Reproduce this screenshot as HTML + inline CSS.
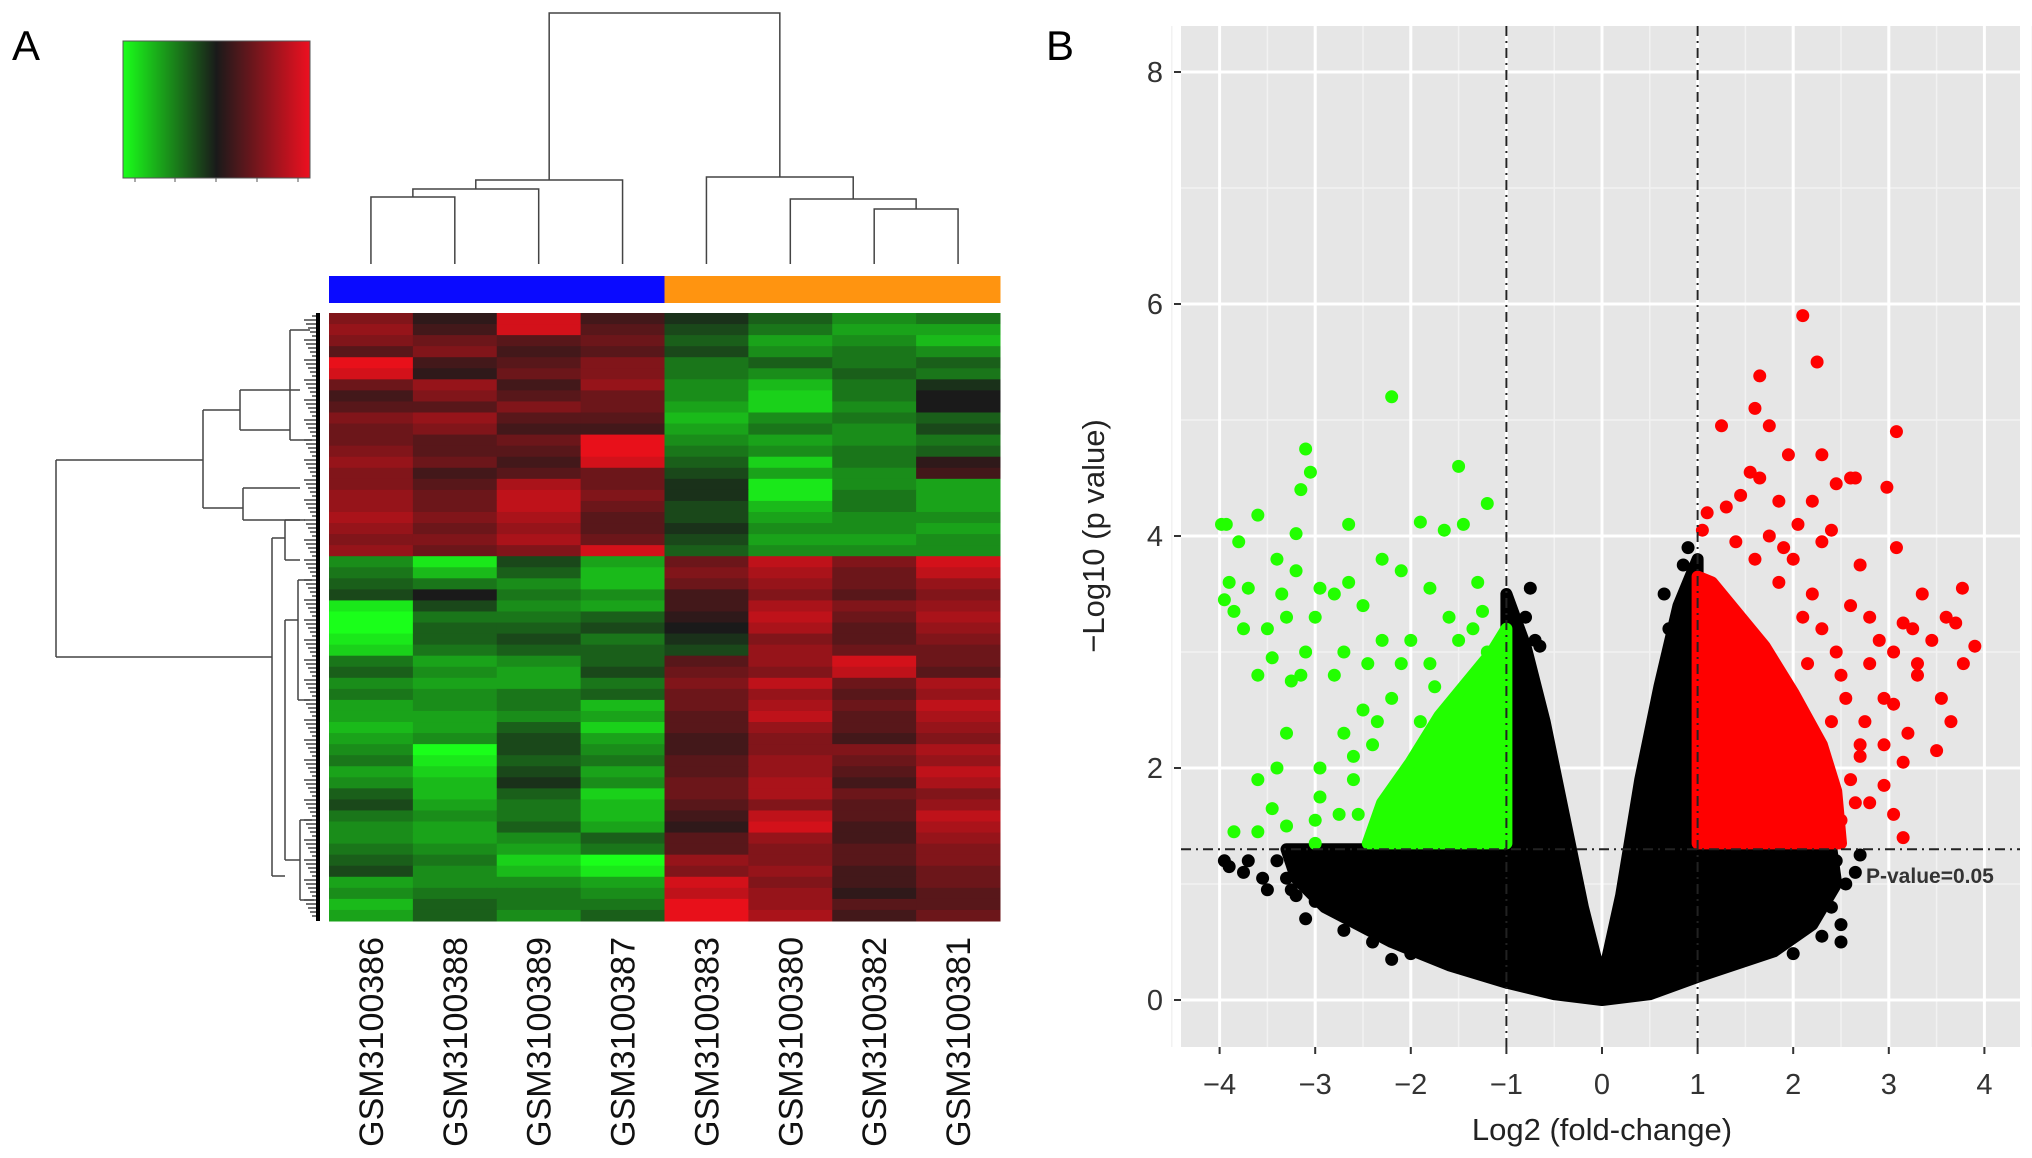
<!DOCTYPE html>
<html><head><meta charset="utf-8"><style>
html,body{margin:0;padding:0;background:#fff;}
svg{display:block;font-family:"Liberation Sans",Arial,sans-serif;}
</style></head><body>
<svg id="fig" width="2032" height="1158" viewBox="0 0 2032 1158" xmlns="http://www.w3.org/2000/svg">
<defs>
<linearGradient id="ck" x1="0" x2="1" y1="0" y2="0">
<stop offset="0" stop-color="#1aff1a"/><stop offset="0.5" stop-color="#1a1a1a"/><stop offset="1" stop-color="#ee1020"/>
</linearGradient>
</defs>
<text x="12" y="60" font-size="42">A</text>
<text x="1046" y="60" font-size="42">B</text>
<g>
<rect x="123" y="41" width="187" height="137" fill="url(#ck)" stroke="#555" stroke-width="1"/>
<path d="M135 178v4M175 178v4M216 178v4M257 178v4M298 178v4" stroke="#555" stroke-width="1"/>
</g>
<g id="heat"></g>
<g id="dendroTop" stroke="#444" stroke-width="1.5" fill="none"></g>
<g id="dendroLeft" stroke="#444" stroke-width="1.5" fill="none"></g>
<g id="volcano"></g>
</svg>
<script>
const NS="http://www.w3.org/2000/svg";
function mk(tag,attrs,parent){const e=document.createElementNS(NS,tag);for(const k in attrs)e.setAttribute(k,attrs[k]);parent.appendChild(e);return e;}

// ---------- Heatmap data ----------
const samples=["GSM3100386","GSM3100388","GSM3100389","GSM3100387","GSM3100383","GSM3100380","GSM3100382","GSM3100381"];
const groups=["blue","blue","blue","blue","orange","orange","orange","orange"];
const heatRows=[
[.5,.1,.9,.2,-.1,-.3,-.5,-.4],
[.6,.2,.9,.3,-.2,-.4,-.6,-.6],
[.5,.4,.3,.4,-.3,-.6,-.5,-.7],
[.3,.5,.2,.3,-.2,-.5,-.4,-.5],
[1,.2,.3,.5,-.4,-.3,-.4,-.3],
[.9,.1,.4,.5,-.4,-.5,-.3,-.4],
[.4,.6,.2,.6,-.5,-.7,-.4,-.1],
[.2,.5,.3,.4,-.5,-.8,-.4,0],
[.3,.3,.5,.4,-.6,-.8,-.5,0],
[.5,.6,.3,.3,-.7,-.5,-.4,-.3],
[.4,.5,.2,.2,-.6,-.4,-.5,-.2],
[.4,.3,.4,1,-.5,-.6,-.5,-.4],
[.5,.3,.3,1,-.4,-.5,-.4,-.3],
[.6,.4,.2,.9,-.3,-.8,-.4,.1],
[.5,.2,.3,.4,-.2,-.6,-.5,.2],
[.5,.3,.7,.4,-.1,-.9,-.5,-.6],
[.6,.4,.8,.5,-.1,-.9,-.4,-.6],
[.6,.4,.8,.4,-.2,-.7,-.4,-.6],
[.7,.5,.7,.3,-.2,-.6,-.5,-.5],
[.6,.4,.6,.3,-.1,-.5,-.5,-.6],
[.5,.5,.7,.4,-.2,-.6,-.6,-.5],
[.6,.4,.5,.9,-.3,-.5,-.5,-.5],
[-.5,-.9,-.2,-.6,.4,.8,.5,.9],
[-.4,-.7,-.3,-.7,.5,.7,.4,.8],
[-.3,-.4,-.5,-.7,.4,.6,.4,.6],
[-.2,0,-.4,-.5,.2,.5,.3,.5],
[-.9,-.2,-.5,-.6,.2,.7,.5,.6],
[-1,-.4,-.4,-.3,.1,.8,.4,.7],
[-1,-.3,-.3,-.2,.0,.7,.3,.6],
[-.9,-.3,-.2,-.4,-.1,.5,.3,.5],
[-.8,-.4,-.3,-.3,-.2,.6,.4,.4],
[-.4,-.6,-.5,-.3,.3,.6,.9,.4],
[-.3,-.5,-.6,-.2,.4,.5,.8,.3],
[-.5,-.6,-.6,-.4,.5,.8,.4,.7],
[-.4,-.5,-.4,-.3,.4,.6,.3,.6],
[-.6,-.5,-.4,-.7,.4,.7,.4,.8],
[-.6,-.6,-.5,-.6,.3,.8,.3,.7],
[-.7,-.6,-.3,-.8,.3,.6,.3,.6],
[-.6,-.5,-.2,-.6,.2,.5,.2,.5],
[-.5,-1,-.2,-.5,.2,.5,.5,.7],
[-.4,-.9,-.3,-.4,.3,.6,.4,.6],
[-.6,-.8,-.2,-.6,.3,.6,.3,.8],
[-.5,-.7,-.1,-.5,.4,.7,.2,.7],
[-.3,-.7,-.3,-.8,.4,.7,.4,.5],
[-.2,-.6,-.4,-.7,.3,.5,.3,.6],
[-.4,-.5,-.4,-.7,.2,.8,.3,.8],
[-.5,-.6,-.3,-.6,.1,.9,.2,.7],
[-.5,-.6,-.5,-.3,.3,.6,.2,.6],
[-.4,-.5,-.6,-.4,.3,.5,.3,.5],
[-.3,-.4,-.8,-1,.6,.5,.3,.5],
[-.2,-.5,-.7,-.9,.5,.6,.2,.4],
[-.6,-.5,-.5,-.6,.9,.5,.2,.4],
[-.5,-.4,-.4,-.5,.8,.6,.1,.3],
[-.7,-.3,-.4,-.4,1,.6,.3,.3],
[-.6,-.3,-.5,-.3,1,.7,.2,.4]
];
// ---------- Volcano data ----------
const xTicks=[-4,-3,-2,-1,0,1,2,3,4];
const yTicks=[0,2,4,6,8];
const foldThresh=[-1,1];
const pThresh=1.3;
const greenPts=[[-3.98,4.1],[-3.93,4.1],[-3.8,3.95],[-3.6,4.18],[-3.1,4.75],[-3.05,4.55],[-3.15,4.4],[-3.2,4.02],[-2.65,4.1],[-2.2,5.2],[-1.9,4.12],[-1.65,4.05],[-1.5,4.6],[-1.45,4.1],[-1.2,4.28],[-2.3,3.8],[-2.1,3.7],[-1.8,3.55],[-3.9,3.6],[-3.95,3.45],[-3.85,3.35],[-3.7,3.55],[-3.75,3.2],[-3.5,3.2],[-3.4,3.8],[-3.35,3.5],[-3.2,3.7],[-3.3,3.3],[-3.0,3.3],[-2.95,3.55],[-2.8,3.5],[-2.65,3.6],[-2.5,3.4],[-2.7,3.0],[-3.1,3.0],[-3.45,2.95],[-3.6,2.8],[-3.25,2.75],[-3.15,2.8],[-2.8,2.8],[-2.7,2.3],[-2.5,2.5],[-3.3,2.3],[-3.6,1.9],[-3.45,1.65],[-3.3,1.5],[-3.85,1.45],[-3.0,1.55],[-3.4,2.0],[-2.95,2.0],[-2.95,1.75],[-3.0,1.35],[-3.6,1.45],[-2.6,1.9],[-2.4,2.2],[-2.2,2.6],[-2.0,3.1],[-1.8,2.9],[-1.6,3.3],[-1.3,3.6],[-1.25,3.35],[-2.3,3.1],[-2.45,2.9],[-2.55,1.6],[-2.2,1.5],[-1.9,2.4],[-1.7,2.1],[-2.1,1.9],[-1.5,3.1],[-1.35,3.2],[-1.2,3.0],[-2.1,2.9],[-1.75,2.7],[-2.35,2.4],[-2.6,2.1],[-2.75,1.6]];
const redPts=[[2.1,5.9],[2.25,5.5],[1.65,5.38],[1.6,5.1],[1.25,4.95],[1.75,4.95],[3.08,4.9],[1.95,4.7],[2.3,4.7],[1.55,4.55],[1.65,4.5],[2.6,4.5],[2.65,4.5],[2.45,4.45],[2.98,4.42],[1.45,4.35],[1.85,4.3],[2.2,4.3],[1.1,4.2],[1.3,4.25],[2.05,4.1],[2.4,4.05],[1.05,4.05],[1.75,4.0],[2.3,3.95],[3.08,3.9],[2.7,3.75],[3.77,3.55],[3.35,3.5],[3.6,3.3],[3.7,3.25],[3.15,3.25],[3.25,3.2],[3.05,3.0],[3.45,3.1],[3.9,3.05],[2.9,3.1],[2.8,2.9],[3.3,2.9],[3.78,2.9],[3.55,2.6],[3.3,2.8],[2.95,2.6],[2.75,2.4],[3.05,2.55],[3.65,2.4],[3.2,2.3],[2.95,2.2],[3.5,2.15],[2.7,2.1],[3.15,2.05],[2.6,1.9],[2.65,1.7],[2.95,1.85],[2.8,1.7],[3.05,1.6],[3.15,1.4],[2.5,1.55],[2.4,1.45],[2.55,2.6],[2.45,3.0],[2.2,3.5],[2.0,3.8],[2.6,3.4],[2.8,3.3],[2.4,2.4],[1.9,3.9],[2.1,3.3],[1.85,3.6],[2.3,3.2],[2.5,2.8],[2.7,2.2],[1.6,3.8],[1.4,3.95],[2.15,2.9]];
const blackPts=[[-3.95,1.2],[-3.9,1.15],[-3.7,1.2],[-3.55,1.05],[-3.3,1.05],[-3.5,0.95],[-3.2,0.9],[-3.0,0.85],[-2.8,0.8],[-3.1,0.7],[-2.7,0.6],[-2.4,0.5],[-2.2,0.35],[-2.0,0.4],[-2.9,1.0],[-2.6,1.2],[-2.5,0.9],[-1.8,1.1],[-3.75,1.1],[-3.4,1.2],[-3.15,1.2],[-2.85,1.2],[-2.75,1.05],[-3.25,0.95],[2.7,1.25],[2.65,1.1],[2.5,0.65],[2.5,0.5],[2.4,0.8],[2.3,0.55],[2.1,1.0],[2.0,0.4],[2.2,0.9],[2.45,1.2],[2.35,1.25],[2.3,1.1],[2.55,1.0],[2.2,1.2],[-0.75,3.55],[-0.8,3.3],[-0.65,3.05],[-0.7,3.1],[0.9,3.9],[0.85,3.75],[0.65,3.5],[0.7,3.2],[-0.9,3.2],[-0.85,3.0]];
const blackArea=[[-1,3.5],[-0.8,3.05],[-0.6,2.4],[-0.4,1.6],[-0.2,0.8],[0,0.15],[0.2,0.9],[0.4,1.9],[0.6,2.7],[0.8,3.4],[1,3.8],[1,1.3],[2.4,1.3],[2.45,1.0],[2.2,0.65],[1.8,0.42],[1,0.2],[0.5,0.05],[0,0.0],[-0.5,0.05],[-1,0.15],[-1.6,0.3],[-2.2,0.5],[-2.9,0.8],[-3.2,1.05],[-3.3,1.3],[-1,1.3]];
const greenArea=[[-1,1.35],[-1,3.2],[-1.15,3.0],[-1.4,2.75],[-1.7,2.45],[-2.0,2.05],[-2.3,1.7],[-2.45,1.35]];
const redArea=[[1,1.35],[1,3.65],[1.15,3.6],[1.4,3.35],[1.7,3.05],[2.0,2.65],[2.3,2.2],[2.45,1.8],[2.5,1.35]];

// ---------- Heatmap render ----------
const HX=329,HY=313,HW=671,HH=608;
const cw=HW/samples.length, rh=HH/heatRows.length;
const heat=document.getElementById('heat');
function col(v){
  const g=[26,255,26],k=[26,26,26],r=[232,16,26];
  const t=Math.max(-1,Math.min(1,v));
  const a=t<0?g:r, f=Math.abs(t);
  return `rgb(${Math.round(k[0]+(a[0]-k[0])*f)},${Math.round(k[1]+(a[1]-k[1])*f)},${Math.round(k[2]+(a[2]-k[2])*f)})`;
}
heatRows.forEach((row,i)=>{row.forEach((v,j)=>{
  const c=mk('rect',{x:HX+j*cw,y:HY+i*rh,width:cw+0.5,height:rh+0.5,fill:col(v)},heat);
  
  
});});
samples.forEach((s,j)=>{
  const b=mk('rect',{x:HX+j*cw,y:276,width:cw+0.5,height:27,fill:groups[j]==="blue"?"#0a0aff":"#ff9410"},heat);
  
  
  const cx=HX+(j+0.5)*cw;
  const t=mk('text',{x:0,y:0,transform:`translate(${cx+12},937) rotate(-90)`,'font-size':34,'text-anchor':'end',fill:'#111'},heat);
  t.textContent=s;
  
  
});
// top dendrogram
const dt=document.getElementById('dendroTop');
const cX=j=>HX+(j+0.5)*cw;
const leafY=264;
function seg(d,p){mk('path',{d:d},p);}
seg(`M${cX(0)} ${leafY}V197H${cX(1)}V${leafY}`,dt);
const m01=(cX(0)+cX(1))/2;
seg(`M${m01} 197V189H${cX(2)}V${leafY}`,dt);
const m012=(m01+cX(2))/2;
seg(`M${m012} 189V180H${cX(3)}V${leafY}`,dt);
const mL=(m012+cX(3))/2;
seg(`M${cX(6)} ${leafY}V209H${cX(7)}V${leafY}`,dt);
const m67=(cX(6)+cX(7))/2;
seg(`M${cX(5)} ${leafY}V199H${m67}V209`,dt);
const m567=(cX(5)+m67)/2;
seg(`M${cX(4)} ${leafY}V177H${m567}V199`,dt);
const mR=(cX(4)+m567)/2;
seg(`M${mL} 180V13H${mR}V177`,dt);
// left dendrogram
const dl=document.getElementById('dendroLeft');
seg(`M56 460V657`,dl);seg(`M56 460H203M56 657H272`,dl);
seg(`M203 410V508M203 410H240M203 508H243`,dl);
seg(`M240 390V430M240 390H300M240 430H290`,dl);
seg(`M243 488V520M243 488H300M243 520H300`,dl);
seg(`M272 538V876M272 538H285M272 876H285`,dl);
seg(`M285 520V560M285 520H305M285 560H300`,dl);
seg(`M285 620V860M285 620H298M285 860H300`,dl);
seg(`M298 580V700M298 580H312M298 700H310`,dl);
seg(`M300 820V900M300 820H312M300 900H314`,dl);
seg(`M290 330V440M290 330H310M290 440H312`,dl);
for(let y=316;y<918;y+=4){seg(`M${304+(y%20)/2} ${y}H318`,dl);}
mk('path',{d:'M318 313V921',stroke:'#000','stroke-width':4},dl);

// ---------- Volcano render ----------
const vg=document.getElementById('volcano');
const PX0=1181,PY0=26,PX1=2020,PY1=1047;
const sx=x=>1602+x*95.6, sy=y=>1000-y*116;
const bg=mk('rect',{x:PX0,y:PY0,width:PX1-PX0,height:PY1-PY0,fill:'#e6e6e6'},vg);


for(let v=-4.5;v<=4.5;v+=1){mk('line',{x1:sx(v),x2:sx(v),y1:PY0,y2:PY1,stroke:'#f2f2f2','stroke-width':1.5},vg);}
for(let v=-1;v<=9;v+=2){const y=sy(v);if(y>PY0&&y<PY1)mk('line',{x1:PX0,x2:PX1,y1:y,y2:y,stroke:'#f2f2f2','stroke-width':1.5},vg);}
xTicks.forEach(v=>{
  mk('line',{x1:sx(v),x2:sx(v),y1:PY0,y2:PY1,stroke:'#fff','stroke-width':3},vg);
  mk('line',{x1:sx(v),x2:sx(v),y1:PY1,y2:PY1+7,stroke:'#333','stroke-width':2},vg);
  const t=mk('text',{x:sx(v),y:1094,'font-size':29,'text-anchor':'middle',fill:'#333'},vg);
  t.textContent=v<0?'\u2212'+Math.abs(v):String(v);
  
  
});
yTicks.forEach(v=>{
  mk('line',{x1:PX0,x2:PX1,y1:sy(v),y2:sy(v),stroke:'#fff','stroke-width':3},vg);
  mk('line',{x1:PX0-7,x2:PX0,y1:sy(v),y2:sy(v),stroke:'#333','stroke-width':2},vg);
  const t=mk('text',{x:1163,y:sy(v)+10,'font-size':29,'text-anchor':'end',fill:'#333'},vg);
  t.textContent=String(v);
  
  
});
function area(pts,fill){
  return mk('polygon',{points:pts.map(q=>sx(q[0])+','+sy(q[1])).join(' '),fill:fill,stroke:fill,'stroke-width':12,'stroke-linejoin':'round'},vg);
}
const ba=area(blackArea,'#000');


blackPts.forEach(q=>{const c=mk('circle',{cx:sx(q[0]),cy:sy(q[1]),r:6.5,fill:'#000'},vg);
  
  });
const ga=area(greenArea,'#22ff00');


const ra=area(redArea,'#ff0000');


greenPts.forEach(q=>{const c=mk('circle',{cx:sx(q[0]),cy:sy(q[1]),r:6.5,fill:'#22ff00'},vg);
  
  });
redPts.forEach(q=>{const c=mk('circle',{cx:sx(q[0]),cy:sy(q[1]),r:6.5,fill:'#ff0000'},vg);
  
  });
foldThresh.forEach(v=>{const l=mk('line',{x1:sx(v),x2:sx(v),y1:PY0,y2:PY1,stroke:'#222','stroke-width':2,'stroke-dasharray':'10 5 2 5'},vg);
  
  });
const hl=mk('line',{x1:PX0,x2:PX1,y1:sy(pThresh),y2:sy(pThresh),stroke:'#222','stroke-width':2,'stroke-dasharray':'10 5 2 5'},vg);


const pl=mk('text',{x:1866,y:sy(pThresh)+34,'font-size':21,'font-weight':'bold',fill:'#333'},vg);
pl.textContent='P-value=0.05';


const xt=mk('text',{x:1602,y:1140,'font-size':31,'text-anchor':'middle',fill:'#222'},vg);
xt.textContent='Log2 (fold-change)';


const yt=mk('text',{x:0,y:0,transform:`translate(1104,536) rotate(-90)`,'font-size':31,'text-anchor':'middle',fill:'#222'},vg);
yt.textContent='\u2212Log10 (p value)';


</script>
</body></html>
